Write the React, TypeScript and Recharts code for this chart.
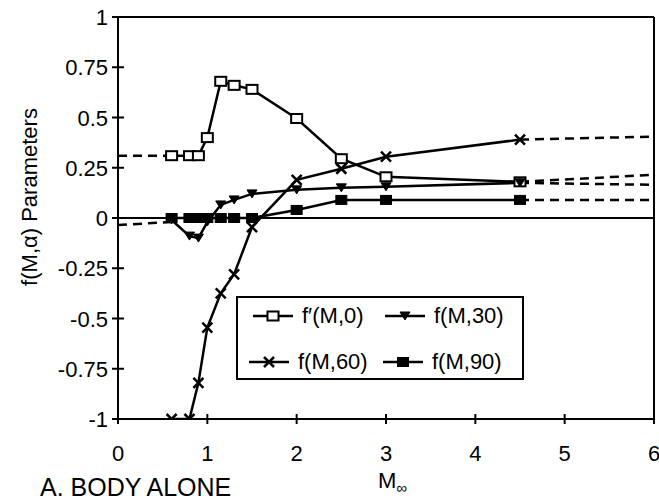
import React from "react";
import { LineChart, Line, XAxis, YAxis, ReferenceLine, Legend } from "recharts";

const machs = [0.6, 0.8, 0.9, 1.0, 1.15, 1.3, 1.5, 2.0, 2.5, 3.0, 4.5];
const fPrime0 = [0.31, 0.31, 0.31, 0.4, 0.68, 0.66, 0.64, 0.495, 0.295, 0.205, 0.18];
const f30 = [-0.01, -0.09, -0.1, -0.02, 0.065, 0.09, 0.12, 0.14, 0.15, 0.155, 0.175];
const f60 = [-1, -1, -0.82, -0.545, -0.375, -0.28, -0.045, 0.19, 0.245, 0.305, 0.39];
const f90 = [0, 0, 0, 0, 0, 0, 0, 0.04, 0.09, 0.09, 0.09];

// dashed extrapolations
const extMachsLeft = [0, 0.6];
const extMachsRight = [4.5, 6];
const fPrime0Left = [0.31, 0.31];
const fPrime0Right = [0.18, 0.215];
const f30Left = [-0.035, -0.02];
const f30Right = [0.175, 0.165];
const f60Right = [0.39, 0.405];
const f90Right = [0.09, 0.09];

const xTicks = [0, 1, 2, 3, 4, 5, 6];
const yTicks = [-1, -0.75, -0.5, -0.25, 0, 0.25, 0.5, 0.75, 1];
const yTickLabels = ["-1", "-0.75", "-0.5", "-0.25", "0", "0.25", "0.5", "0.75", "1"];
const legendNames = ["f\u2032(M,0)", "f(M,30)", "f(M,60)", "f(M,90)"];

const FONT = "'Liberation Sans', Arial, Helvetica, sans-serif";

const toData = (xs: number[], ys: number[]) => xs.map((m, i) => ({ m, v: ys[i] }));

const OpenSquare = ({ cx, cy }: any) => (
  <rect x={cx - 5.5} y={cy - 4.5} width={11} height={9} fill="#fff" stroke="#000" strokeWidth={2} />
);
const FilledSquare = ({ cx, cy }: any) => (
  <rect x={cx - 5.5} y={cy - 4.5} width={11} height={9} fill="#000" stroke="#000" strokeWidth={1} />
);
const TriDown = ({ cx, cy }: any) => (
  <polygon points={`${cx - 5},${cy - 4} ${cx + 5},${cy - 4} ${cx},${cy + 4}`} fill="#000" stroke="#000" strokeWidth={1} />
);
const Cross = ({ cx, cy }: any) => (
  <g stroke="#000" strokeWidth={2.5}>
    <line x1={cx - 5} y1={cy - 5} x2={cx + 5} y2={cy + 5} />
    <line x1={cx - 5} y1={cy + 5} x2={cx + 5} y2={cy - 5} />
  </g>
);

const markers = [OpenSquare, TriDown, Cross, FilledSquare];

const makeDot = (M: any) => (props: any) => {
  const { cx, cy, index } = props;
  if (cx == null || cy == null) return <g key={`d${index}`} />;
  return <g key={`d${index}`}><M cx={cx} cy={cy} /></g>;
};

const YTick = (props: any) => {
  const { x, y, payload } = props;
  const idx = yTicks.indexOf(payload.value);
  const ax = x + 10;
  return (
    <g>
      <line x1={ax - 6} y1={y} x2={ax + 6} y2={y} stroke="#000" strokeWidth={2} />
      <text x={x} y={y + 8} textAnchor="end" fontSize={22} fontFamily={FONT} fill="#000">
        {idx >= 0 ? yTickLabels[idx] : payload.value}
      </text>
    </g>
  );
};

const XTick = (props: any) => {
  const { x, y, payload } = props;
  const ay = y - 10;
  return (
    <g>
      <line x1={x} y1={ay - 5} x2={x} y2={ay + 5} stroke="#000" strokeWidth={2} />
      <text x={x} y={ay + 42} textAnchor="middle" fontSize={22} fontFamily={FONT} fill="#000">
        {payload.value}
      </text>
    </g>
  );
};

const XLabel = () => (
  <g fontFamily={FONT} fill="#000">
    <text x={378} y={488} fontSize={22}>
      M<tspan fontSize={15} dy={5}>{"\u221E"}</tspan>
    </text>
    <text x={40} y={496} fontSize={25}>A. BODY ALONE</text>
  </g>
);

const YLabel = () => (
  <text
    x={0}
    y={0}
    transform="translate(29,197) rotate(-90)"
    textAnchor="middle"
    dominantBaseline="central"
    fontSize={22}
    fontFamily={FONT}
    fill="#000"
  >
    f(M,{"\u03B1"}) Parameters
  </text>
);

const LegendIcon = ({ M }: any) => (
  <svg width={42} height={16} style={{ display: "block" }}>
    <line x1={1} y1={8} x2={41} y2={8} stroke="#000" strokeWidth={2.5} />
    <M cx={21} cy={8} />
  </svg>
);

const LegendBox = () => {
  const pos = [
    { left: 14, top: 10 },
    { left: 146, top: 10 },
    { left: 10, top: 56 },
    { left: 144, top: 56 },
  ];
  return (
    <div
      style={{
        position: "relative",
        width: 284,
        height: 80,
        border: "2px solid #000",
        background: "#fff",
        fontFamily: FONT,
        fontSize: 22,
        color: "#000",
      }}
    >
      {legendNames.map((n, i) => (
        <div
          key={n}
          style={{
            position: "absolute",
            left: pos[i].left,
            top: pos[i].top,
            display: "flex",
            alignItems: "center",
            gap: 8,
            whiteSpace: "nowrap",
            lineHeight: "16px",
          }}
        >
          <LegendIcon M={markers[i]} />
          <span>{n}</span>
        </div>
      ))}
    </div>
  );
};

export default function App() {
  const solid = [fPrime0, f30, f60, f90];
  const dashed = [
    toData(extMachsLeft, fPrime0Left),
    toData(extMachsRight, fPrime0Right),
    toData(extMachsLeft, f30Left),
    toData(extMachsRight, f30Right),
    toData(extMachsRight, f60Right),
    toData(extMachsRight, f90Right),
  ];
  return (
    <div style={{ position: "absolute", left: 0, top: 0, width: 659, height: 502, background: "#fff" }}>
      <LineChart width={659} height={502} margin={{ top: 17, right: 5, bottom: 0, left: 0 }}>
        <XAxis
          dataKey="m"
          type="number"
          domain={[0, 6]}
          ticks={xTicks}
          allowDataOverflow
          height={83}
          tickSize={0}
          tickMargin={10}
          tick={<XTick />}
          axisLine={{ stroke: "#000", strokeWidth: 2 }}
          label={<XLabel />}
        />
        <YAxis
          type="number"
          domain={[-1, 1]}
          ticks={yTicks}
          allowDataOverflow
          width={118}
          tickSize={0}
          tickMargin={10}
          tick={<YTick />}
          axisLine={{ stroke: "#000", strokeWidth: 2 }}
          label={<YLabel />}
        />
        <ReferenceLine y={1} stroke="#000" strokeWidth={2} />
        <ReferenceLine x={6} stroke="#000" strokeWidth={2} />
        <ReferenceLine y={0} stroke="#000" strokeWidth={2} />
        {dashed.map((d, i) => (
          <Line
            key={`dash${i}`}
            data={d}
            dataKey="v"
            stroke="#000"
            strokeWidth={2.5}
            strokeDasharray="9 6"
            dot={false}
            isAnimationActive={false}
            legendType="none"
          />
        ))}
        {solid.map((ys, i) => (
          <Line
            key={`s${i}`}
            name={legendNames[i]}
            data={toData(machs, ys)}
            dataKey="v"
            stroke="#000"
            strokeWidth={2.5}
            dot={makeDot(markers[i])}
            activeDot={false}
            isAnimationActive={false}
          />
        ))}
        <Legend
          layout="vertical"
          align="center"
          verticalAlign="middle"
          content={<LegendBox />}
          wrapperStyle={{ left: 236, top: 296, width: 288, height: 84 }}
        />
      </LineChart>
    </div>
  );
}
